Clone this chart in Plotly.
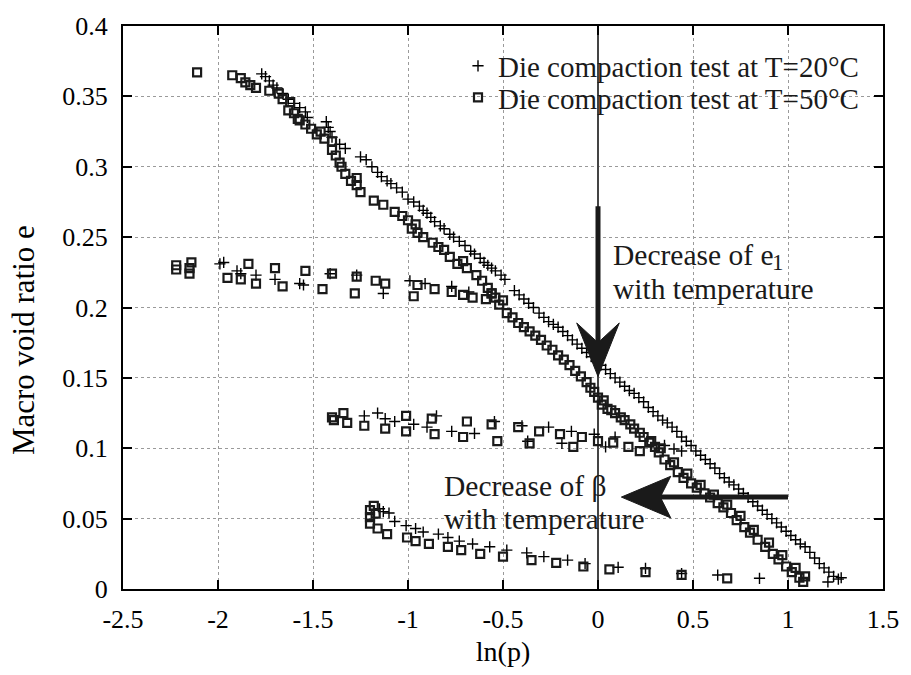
import plotly.graph_objects as go

# ---------------- data ----------------
# T = 20 C  ("+") : main loading curve
t20_main_x = [-1.77, -1.75, -1.73, -1.71, -1.69, -1.66, -1.63, -1.60, -1.57, -1.54, -1.53,
              -1.43, -1.42, -1.41, -1.40, -1.36, -1.33, -1.25, -1.22, -1.19, -1.16, -1.14,
              -1.11, -1.09, -1.06, -1.03, -1.00, -0.97, -0.94, -0.92, -0.90, -0.88, -0.86,
              -0.83, -0.81, -0.78, -0.76, -0.73, -0.70, -0.67, -0.65, -0.62, -0.60, -0.58,
              -0.56, -0.54, -0.51, -0.49,
              -0.44, -0.415, -0.39, -0.365, -0.34, -0.31, -0.285, -0.26, -0.235, -0.21,
              -0.185, -0.16, -0.135, -0.11, -0.085, -0.06, -0.035, -0.01, 0.015, 0.04,
              0.065, 0.09, 0.115, 0.14, 0.165, 0.19, 0.215, 0.24, 0.265, 0.29, 0.315,
              0.34, 0.365, 0.39, 0.415, 0.44, 0.465, 0.49, 0.515, 0.54, 0.565, 0.59,
              0.615, 0.64, 0.665, 0.69, 0.715, 0.74, 0.765, 0.79, 0.815, 0.84, 0.865,
              0.89, 0.915, 0.94, 0.965, 0.99, 1.015, 1.04, 1.065, 1.09, 1.115, 1.14,
              1.165, 1.19, 1.215, 1.24, 1.265, 1.28]
t20_main_y = [0.366, 0.364, 0.361, 0.358, 0.356, 0.352, 0.348, 0.345, 0.342, 0.339, 0.335,
              0.332, 0.328, 0.325, 0.321, 0.316, 0.313, 0.307, 0.305, 0.300, 0.296, 0.293,
              0.290, 0.288, 0.285, 0.282, 0.277, 0.275, 0.272, 0.269, 0.267, 0.264, 0.261,
              0.258, 0.256, 0.252, 0.250, 0.247, 0.244, 0.240, 0.238, 0.235, 0.232, 0.230,
              0.228, 0.226, 0.223, 0.220,
              0.212, 0.209, 0.206, 0.203, 0.200, 0.196, 0.193, 0.190, 0.188, 0.186,
              0.183, 0.180, 0.177, 0.174, 0.171, 0.168, 0.165, 0.162, 0.159, 0.156,
              0.153, 0.150, 0.147, 0.144, 0.141, 0.139, 0.136, 0.133, 0.129, 0.126, 0.123,
              0.120, 0.118, 0.115, 0.112, 0.108, 0.105, 0.102, 0.098, 0.095, 0.092, 0.089,
              0.086, 0.082, 0.079, 0.076, 0.074, 0.071, 0.068, 0.065, 0.062, 0.059, 0.056,
              0.053, 0.050, 0.047, 0.044, 0.041, 0.038, 0.035, 0.032, 0.030, 0.026, 0.022,
              0.018, 0.015, 0.012, 0.009, 0.007, 0.008]

# T = 20 C : unloading branch near e = 0.22
t20_b1_x = [-1.99, -1.97, -1.90, -1.88, -1.80, -1.70, -1.57, -1.55, -1.41, -1.27, -1.13,
            -0.99, -0.91, -0.77, -0.68]
t20_b1_y = [0.231, 0.232, 0.226, 0.224, 0.223, 0.220, 0.217, 0.216, 0.224, 0.223, 0.210,
            0.219, 0.217, 0.215, 0.211]

# T = 20 C : branch near e = 0.11
t20_b2_x = [-1.23, -1.16, -1.12, -1.07, -0.97, -0.90, -0.85, -0.77, -0.65, -0.545, -0.40,
            -0.37, -0.26, -0.19, -0.14, -0.02, 0.04, 0.09, 0.35, 0.40, 0.44]
t20_b2_y = [0.123, 0.125, 0.121, 0.119, 0.117, 0.115, 0.123, 0.112, 0.1105, 0.119, 0.116,
            0.105, 0.115, 0.1035, 0.112, 0.110, 0.101, 0.108, 0.102, 0.0995, 0.098]

# T = 20 C : lowest branch
t20_b3_x = [-1.15, -1.13, -1.10, -1.07, -1.01, -0.96, -0.92, -0.84, -0.79, -0.73, -0.66,
            -0.57, -0.48, -0.375, -0.285, -0.16, -0.068, 0.106, 0.25, 0.44, 0.63, 0.85, 1.21]
t20_b3_y = [0.057, 0.055, 0.054, 0.048, 0.045, 0.043, 0.0405, 0.039, 0.0366, 0.034, 0.032,
            0.030, 0.0276, 0.0257, 0.023, 0.0205, 0.018, 0.0154, 0.0146, 0.011, 0.0099,
            0.0076, 0.005]

# T = 50 C  (squares) : main loading curve
t50_main_x = [-2.11, -1.925, -1.88, -1.856, -1.83, -1.80, -1.73, -1.68, -1.66, -1.62, -1.63,
              -1.60, -1.58, -1.54, -1.51, -1.48, -1.44, -1.40, -1.40, -1.38, -1.36, -1.35,
              -1.33, -1.27, -1.27, -1.25, -1.18, -1.13, -1.07, -1.03, -1.00, -0.98, -0.95,
              -0.92, -0.87, -0.84, -0.81, -0.78, -0.74, -0.69, -0.64, -0.61, -0.58, -0.56,
              -0.54, -0.52, -0.48, -0.45, -0.42, -0.39, -0.36, -0.33, -0.30, -0.27, -0.24,
              -0.21, -0.18, -0.15, -0.12, -0.09, -0.06, -0.04, -0.02, 0.00, 0.02, 0.05,
              0.09, 0.12, 0.14, 0.17, 0.19, 0.22, 0.24, 0.27, 0.30, 0.32, 0.35, 0.38, 0.42,
              0.45, 0.49, 0.52, 0.56, 0.59, 0.63, 0.66, 0.70, 0.73, 0.77, 0.80, 0.84, 0.88,
              0.92, 0.95, 0.99, 1.02, 1.06, 1.08, 1.09,
              -1.57, -1.46, -1.30, -0.96, -0.71, -0.50, 0.03, 0.07, 0.28, 0.33, 0.40,
              0.47, 0.54, 0.61, 0.68, 0.75, 0.82, 0.90, 0.97, 1.04]
t50_main_y = [0.367, 0.365, 0.363, 0.360, 0.358, 0.356, 0.354, 0.352, 0.348, 0.346, 0.340,
              0.338, 0.334, 0.330, 0.327, 0.323, 0.320, 0.318, 0.312, 0.308, 0.303, 0.300,
              0.295, 0.292, 0.287, 0.282, 0.276, 0.273, 0.268, 0.265, 0.262, 0.256, 0.253,
              0.250, 0.246, 0.243, 0.241, 0.236, 0.231, 0.228, 0.223, 0.219, 0.214, 0.210,
              0.207, 0.202, 0.196, 0.193, 0.189, 0.186, 0.183, 0.180, 0.177, 0.173, 0.170,
              0.166, 0.163, 0.159, 0.155, 0.151, 0.147, 0.143, 0.140, 0.136, 0.131, 0.128,
              0.125, 0.122, 0.120, 0.117, 0.114, 0.111, 0.108, 0.104, 0.101, 0.097, 0.092,
              0.088, 0.083, 0.079, 0.075, 0.072, 0.068, 0.065, 0.061, 0.058, 0.054, 0.049,
              0.044, 0.040, 0.035, 0.030, 0.025, 0.021, 0.016, 0.012, 0.008, 0.005, 0.009,
              0.333, 0.325, 0.290, 0.259, 0.233, 0.205, 0.134, 0.127, 0.105, 0.100, 0.090,
              0.082, 0.074, 0.067, 0.060, 0.052, 0.042, 0.033, 0.024, 0.015]

# T = 50 C : unloading branch near e = 0.22
t50_b1_x = [-2.22, -2.22, -2.14, -2.15, -2.15, -1.95, -1.88, -1.84, -1.80, -1.70, -1.66,
            -1.54, -1.45, -1.40, -1.28, -1.27, -1.17, -1.12, -0.97, -0.95, -0.86, -0.77,
            -0.71, -0.66, -0.59, -0.56]
t50_b1_y = [0.230, 0.227, 0.232, 0.228, 0.224, 0.221, 0.220, 0.231, 0.217, 0.228, 0.215,
            0.226, 0.213, 0.224, 0.210, 0.222, 0.219, 0.217, 0.208, 0.216, 0.213, 0.211,
            0.209, 0.207, 0.206, 0.210]

# T = 50 C : branch near e = 0.11
t50_b2_x = [-1.40, -1.39, -1.34, -1.32, -1.23, -1.12, -1.01, -1.01, -0.875, -0.86, -0.71,
            -0.69, -0.56, -0.53, -0.42, -0.36, -0.31, -0.20, -0.13, -0.085, 0.00, 0.08,
            0.16, 0.22]
t50_b2_y = [0.122, 0.120, 0.125, 0.118, 0.116, 0.114, 0.123, 0.112, 0.121, 0.110, 0.108,
            0.119, 0.117, 0.105, 0.115, 0.1035, 0.112, 0.110, 0.101, 0.108, 0.105, 0.104,
            0.101, 0.098]

# T = 50 C : lowest branch
t50_b3_x = [-1.18, -1.20, -1.17, -1.20, -1.20, -1.16, -1.11, -1.005, -0.96, -0.89, -0.79,
            -0.72, -0.62, -0.50, -0.35, -0.22, -0.077, 0.06, 0.25, 0.44, 0.68]
t50_b3_y = [0.059, 0.056, 0.0535, 0.051, 0.0465, 0.043, 0.039, 0.0366, 0.034, 0.032, 0.030,
            0.0276, 0.025, 0.023, 0.0205, 0.0186, 0.016, 0.014, 0.012, 0.010, 0.0076]

x_ticks = [-2.5, -2.0, -1.5, -1.0, -0.5, 0.0, 0.5, 1.0, 1.5]
x_tick_labels = ["-2.5", "-2", "-1.5", "-1", "-0.5", "0", "0.5", "1", "1.5"]
y_ticks = [0.0, 0.05, 0.1, 0.15, 0.2, 0.25, 0.3, 0.35, 0.4]
y_tick_labels = ["0", "0.05", "0.1", "0.15", "0.2", "0.25", "0.3", "0.35", "0.4"]

series_names = ["Die compaction test at T=20°C", "Die compaction test at T=50°C"]
x_title = "ln(p)"
y_title = "Macro void ratio e"

# annotation arrows (tail -> tip), in data units
arrow_e1 = dict(tail=(0.0, 0.272), tip=(0.0, 0.151))
arrow_beta = dict(tail=(1.0, 0.0653), tip=(0.123, 0.0653))

# ---------------- figure ----------------
FONT = "Liberation Serif"
INK = "#1a1a1a"

t20_x = t20_main_x + t20_b1_x + t20_b2_x + t20_b3_x
t20_y = t20_main_y + t20_b1_y + t20_b2_y + t20_b3_y
t50_x = t50_main_x + t50_b1_x + t50_b2_x + t50_b3_x
t50_y = t50_main_y + t50_b1_y + t50_b2_y + t50_b3_y

fig = go.Figure()
fig.add_trace(go.Scatter(
    x=t20_x, y=t20_y, mode="markers", name=series_names[0], legend="legend",
    marker=dict(symbol="cross-thin", size=8, color="black",
                line=dict(color="black", width=1.4)),
    cliponaxis=False))
fig.add_trace(go.Scatter(
    x=t50_x, y=t50_y, mode="markers", name=series_names[1], legend="legend2",
    marker=dict(symbol="square-open", size=8, color=INK,
                line=dict(color=INK, width=2.2)),
    cliponaxis=False))

axis_common = dict(
    showgrid=True, gridcolor="#9a9a9a", griddash="dot", gridwidth=1,
    showline=True, linecolor="black", linewidth=2, mirror="all",
    ticks="inside", ticklen=9, tickwidth=1.5, tickcolor="black",
    tickfont=dict(family=FONT, size=26, color="black"),
    tickmode="array",
)

fig.update_xaxes(**axis_common, range=[-2.5, 1.5], tickvals=x_ticks,
                 ticktext=x_tick_labels, zeroline=True, zerolinecolor="#444444",
                 zerolinewidth=1.5, ticklabelstandoff=6,
                 title=dict(text=x_title, standoff=8,
                            font=dict(family=FONT, size=28, color="black")))
fig.update_yaxes(**axis_common, range=[0, 0.4], tickvals=y_ticks,
                 ticktext=y_tick_labels, zeroline=False, ticklabelstandoff=8)

TXT = dict(family=FONT, size=29.5, color=INK)
annotations = [
    dict(text=y_title, xref="paper", yref="paper", x=-0.131, y=0.443,
         xanchor="center", yanchor="middle", showarrow=False, textangle=-90,
         font=dict(family=FONT, size=31, color="black")),
    dict(text="Decrease of e", xref="x", yref="y", x=0.068, y=0.2376,
         xanchor="left", yanchor="middle", showarrow=False, font=TXT),
    dict(text="1", xref="x", yref="y", x=0.905, y=0.2318,
         xanchor="left", yanchor="middle", showarrow=False,
         font=dict(family=FONT, size=23, color=INK)),
    dict(text="with temperature", xref="x", yref="y", x=0.068, y=0.2135,
         xanchor="left", yanchor="middle", showarrow=False, font=TXT),
    dict(text="Decrease of β", xref="x", yref="y", x=-0.823, y=0.0735,
         xanchor="left", yanchor="middle", showarrow=False, font=TXT),
    dict(text="with temperature", xref="x", yref="y", x=-0.823, y=0.050,
         xanchor="left", yanchor="middle", showarrow=False, font=TXT),
]

# arrows drawn as shapes: shaft + concave ("stealth") head
shapes = []
(tx, ty), (px, py) = arrow_e1["tail"], arrow_e1["tip"]
head_len_y = 0.038
notch_y = 0.024
half_w_x = 0.112
shapes.append(dict(type="line", xref="x", yref="y", x0=tx, y0=ty, x1=px, y1=py + notch_y,
                   line=dict(color=INK, width=5), layer="above"))
shapes.append(dict(type="path", xref="x", yref="y", layer="above",
                   path=(f"M {px},{py} L {px - half_w_x},{py + head_len_y} "
                         f"L {px},{py + notch_y} L {px + half_w_x},{py + head_len_y} Z"),
                   fillcolor=INK, line=dict(color=INK, width=1)))
(tx, ty), (px, py) = arrow_beta["tail"], arrow_beta["tip"]
head_len_x = 0.26
notch_x = 0.205
half_w_y = 0.0148
shapes.append(dict(type="line", xref="x", yref="y", x0=tx, y0=ty, x1=px + notch_x, y1=py,
                   line=dict(color=INK, width=5), layer="above"))
shapes.append(dict(type="path", xref="x", yref="y", layer="above",
                   path=(f"M {px},{py} L {px + head_len_x},{py + half_w_y} "
                         f"L {px + notch_x},{py} L {px + head_len_x},{py - half_w_y} Z"),
                   fillcolor=INK, line=dict(color=INK, width=1)))

legend_common = dict(xanchor="right", yanchor="middle", bgcolor="rgba(0,0,0,0)",
                     borderwidth=0, font=dict(family=FONT, size=29, color=INK),
                     itemwidth=30)

fig.update_layout(
    width=911, height=675, autosize=False,
    margin=dict(l=123, r=20, t=23, b=86),
    paper_bgcolor="white", plot_bgcolor="white",
    font=dict(family=FONT, color="black"),
    showlegend=True,
    legend=dict(x=0.975, y=0.929, **legend_common),
    legend2=dict(x=0.975, y=0.873, **legend_common),
    annotations=annotations,
    shapes=shapes,
)

fig.write_html("out.html")
